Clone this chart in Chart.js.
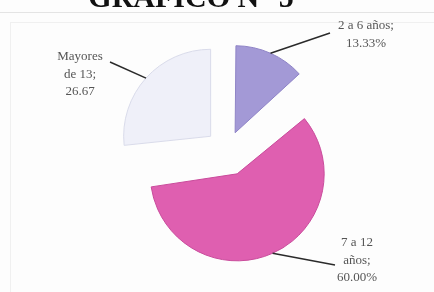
<!DOCTYPE html>
<html>
<head>
<meta charset="utf-8">
<script src="https://cdn.jsdelivr.net/npm/chart.js@4"></script>
<style>
  html, body { margin: 0; padding: 0; background: #fdfdfd; }
  #wrap { position: relative; width: 434px; height: 292px; }
</style>
</head>
<body>
<div id="wrap"><canvas id="myChart" width="434" height="292"></canvas></div>
<script>
// datos del grafico
const titulo = "GRÁFICO N° 5";
const categorias = ["2 a 6 años", "7 a 12 años", "Mayores de 13"];
const valores = [13.33, 60.00, 26.67];
const etiquetas = [["2 a 6 años;", "13.33%"], ["7 a 12", "años;", "60.00%"], ["Mayores", "de 13;", "26.67"]];
const colores = ["#a399d6", "#df5fb0", "#eff0f9"];
const bordes = ["#8f84c6", "#c94b9b", "#d9dbea"];

// donde va cada texto (centro del bloque) y donde termina la linea guia
const posTexto = [[366, 26], [357, 243], [80, 57]];
const finLinea = [[330, 33], [335, 265], [110, 62]];

const RADIO = 87;

const etiquetasPlugin = {
  id: "etiquetas",
  afterDatasetUpdate(chart) {
    // chart.js agranda el radio de las porciones separadas, se compensa
    chart.getDatasetMeta(0).data.forEach((arc) => {
      const circ = arc.endAngle - arc.startAngle;
      const off = (arc.options.offset || 0) / 4;
      const fix = 1 - Math.sin(Math.min(Math.PI, circ));
      arc.outerRadius = RADIO - off * fix;
    });
  },
  beforeDraw(chart) {
    const ctx = chart.ctx;
    ctx.save();
    // marco gris claro
    ctx.strokeStyle = "#e4e4e4";
    ctx.lineWidth = 1;
    ctx.beginPath();
    ctx.moveTo(0, 12.5);
    ctx.lineTo(434, 12.5);
    ctx.stroke();
    ctx.strokeStyle = "#f0f0f0";
    ctx.strokeRect(10.5, 22.5, 430, 280);
    // titulo cortado arriba
    ctx.fillStyle = "#111";
    ctx.font = "bold 30px 'Liberation Serif'";
    ctx.textAlign = "center";
    ctx.textBaseline = "alphabetic";
    ctx.fillText(titulo, 191, 7);
    ctx.restore();
  },
  afterDatasetsDraw(chart) {
    const ctx = chart.ctx;
    const arcs = chart.getDatasetMeta(0).data;
    ctx.save();
    arcs.forEach((arc, i) => {
      const mid = (arc.startAngle + arc.endAngle) / 2;
      const off = (arc.options.offset || 0) / 4;
      const d = off + RADIO;
      const x0 = arc.x + Math.cos(mid) * d;
      const y0 = arc.y + Math.sin(mid) * d;
      ctx.strokeStyle = "#2a2a2a";
      ctx.lineWidth = 1.5;
      ctx.beginPath();
      ctx.moveTo(x0, y0);
      ctx.lineTo(finLinea[i][0], finLinea[i][1]);
      ctx.stroke();

      ctx.fillStyle = "#555";
      ctx.font = "13px 'Liberation Serif'";
      ctx.textAlign = "center";
      ctx.textBaseline = "middle";
      etiquetas[i].forEach((t, k) => {
        ctx.fillText(t, posTexto[i][0], posTexto[i][1] + k * 17.5);
      });
    });
    ctx.restore();
  }
};

const config = {
  type: "pie",
  data: {
    labels: categorias,
    datasets: [{
      data: valores,
      backgroundColor: colores,
      borderColor: bordes,
      borderWidth: 1,
      offset: [80, 100, 88]
    }]
  },
  options: {
    responsive: false,
    animation: false,
    radius: RADIO,
    layout: { padding: { left: 20, top: 10 } },
    plugins: {
      legend: { display: false },
      tooltip: { enabled: false }
    }
  },
  plugins: [etiquetasPlugin]
};

new Chart(document.getElementById("myChart"), config);
</script>
</body>
</html>
